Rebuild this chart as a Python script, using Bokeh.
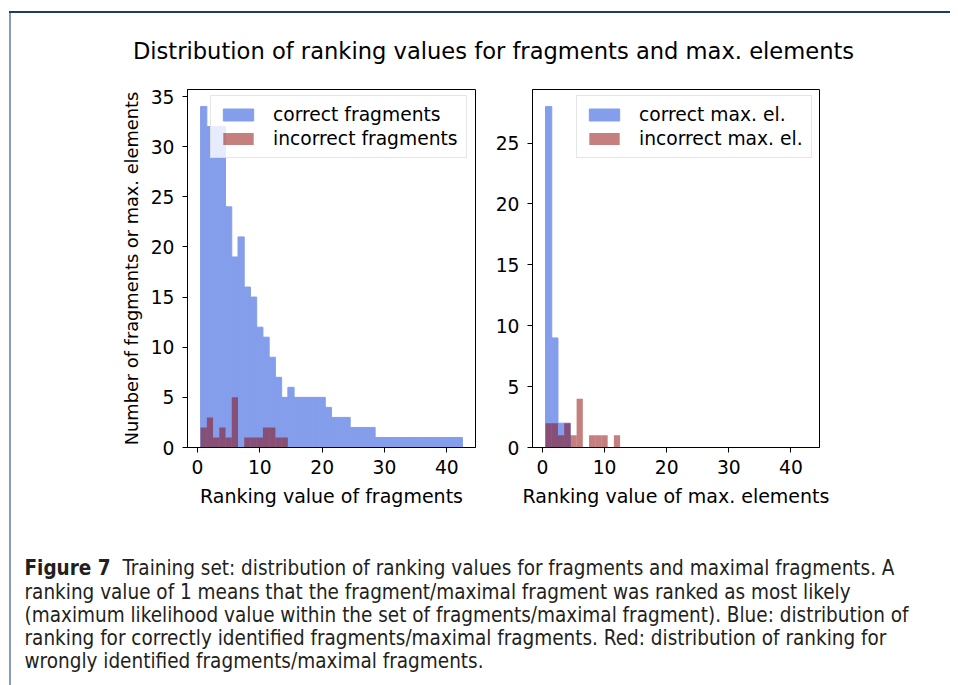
from bokeh.plotting import figure
from bokeh.layouts import column, row
from bokeh.models import Range1d, FixedTicker, Spacer, Div
from bokeh.embed import file_html
from bokeh.resources import INLINE
from bokeh.core.properties import value

# ---------------- data ----------------
TITLE = "Distribution of ranking values for fragments and max. elements"
bins = [1, 2, 3, 4, 5, 6, 7, 8, 9, 10, 11, 12, 13, 14, 15, 16, 17, 18, 19, 20, 21,
        22, 23, 24, 25, 26, 27, 28, 29, 30, 31, 32, 33, 34, 35, 36, 37, 38, 39, 40, 41, 42]
correct_fragments = [34, 32, 32, 32, 24, 19, 21, 16, 15, 12, 11, 9, 7, 5, 6, 5, 5, 5, 5, 5, 4,
                     3, 3, 3, 2, 2, 2, 2, 1, 1, 1, 1, 1, 1, 1, 1, 1, 1, 1, 1, 1, 1]
incorrect_fragments = [2, 3, 1, 2, 1, 5, 0, 1, 1, 1, 2, 2, 1, 1, 0, 0, 0, 0, 0, 0, 0,
                       0, 0, 0, 0, 0, 0, 0, 0, 0, 0, 0, 0, 0, 0, 0, 0, 0, 0, 0, 0, 0]
correct_max = [28, 9, 2, 2, 0, 0, 0, 0, 0, 0, 0, 0, 0, 0, 0, 0, 0, 0, 0, 0, 0,
               0, 0, 0, 0, 0, 0, 0, 0, 0, 0, 0, 0, 0, 0, 0, 0, 0, 0, 0, 0, 0]
incorrect_max = [2, 2, 1, 2, 1, 4, 0, 1, 1, 1, 0, 1, 0, 0, 0, 0, 0, 0, 0, 0, 0,
                 0, 0, 0, 0, 0, 0, 0, 0, 0, 0, 0, 0, 0, 0, 0, 0, 0, 0, 0, 0, 0]
x_ticks = [0, 10, 20, 30, 40]
y_ticks_left = [0, 5, 10, 15, 20, 25, 30, 35]
y_ticks_right = [0, 5, 10, 15, 20, 25]
xlabel_left = "Ranking value of fragments"
xlabel_right = "Ranking value of max. elements"
ylabel_left = "Number of fragments or max. elements"
legend_left = ["correct fragments", "incorrect fragments"]
legend_right = ["correct max. el.", "incorrect max. el."]
caption_bold = "Figure 7"
caption_lines = [
    "Training set: distribution of ranking values for fragments and maximal fragments. A",
    "ranking value of 1 means that the fragment/maximal fragment was ranked as most likely",
    "(maximum likelihood value within the set of fragments/maximal fragment). Blue: distribution of",
    "ranking for correctly identified fragments/maximal fragments. Red: distribution of ranking for",
    "wrongly identified fragments/maximal fragments.",
]

FONT = "DejaVu Sans"
FS = "18.7px"
BLUE = "#849eec"   # royalblue at 65% over white
RED = "darkred"


def hist(p, counts, color, alpha, label, edge):
    c = [b for b, v in zip(bins, counts) if v > 0]
    v = [v for v in counts if v > 0]
    p.quad(left=[b - 0.5 for b in c], right=[b + 0.5 for b in c], top=v, bottom=0,
           fill_color=color, fill_alpha=alpha,
           line_color=color if edge else None, line_width=1, legend_label=label)


def style_axes(p, yticks):
    p.grid.visible = False
    p.outline_line_color = "black"
    p.outline_line_width = 1
    p.outline_line_alpha = 1
    p.xaxis.ticker = FixedTicker(ticks=x_ticks)
    p.yaxis.ticker = FixedTicker(ticks=yticks)
    for ax in p.axis:
        ax.axis_line_color = "black"
        ax.major_tick_line_color = "black"
        ax.minor_tick_line_color = None
        ax.major_tick_in = 0
        ax.major_tick_out = 5
        ax.major_label_text_font = FONT
        ax.major_label_text_font_size = FS
        ax.major_label_text_color = "black"
        ax.axis_label_text_font = FONT
        ax.axis_label_text_font_size = "19px"
        ax.axis_label_text_font_style = "normal"
        ax.axis_label_text_color = "black"
    p.xaxis.major_label_standoff = 7
    p.yaxis.major_label_standoff = 8
    p.xaxis.axis_label_standoff = 8


def style_legend(p, loc):
    lg = p.legend[0]
    lg.location = loc
    lg.label_text_font = FONT
    lg.label_text_font_size = FS
    lg.label_text_color = "black"
    lg.glyph_width = 38
    lg.glyph_height = 15
    lg.label_standoff = 16
    lg.padding = 8
    lg.spacing = 3
    lg.margin = 0
    lg.border_line_color = "#cccccc"
    lg.border_line_width = 1
    lg.background_fill_alpha = 0.8


def blank(w, h):
    f = figure(width=w, height=h, x_range=Range1d(0, w), y_range=Range1d(h, 0),
               min_border=0, output_backend="svg", toolbar_location=None,
               x_axis_location=None, y_axis_location=None)
    f.grid.visible = False
    f.outline_line_color = None
    return f


ROW_H = 452

# ---------------- left histogram ----------------
p1 = figure(width=479, height=ROW_H, x_range=Range1d(-1.6, 44.6), y_range=Range1d(0, 35.7),
            output_backend="svg", toolbar_location=None,
            min_border_left=176, min_border_right=15, min_border_top=11, min_border_bottom=83)
hist(p1, correct_fragments, BLUE, 1.0, legend_left[0], True)
hist(p1, incorrect_fragments, RED, 0.5, legend_left[1], False)
style_axes(p1, y_ticks_left)
p1.xaxis.axis_label = xlabel_left
p1.yaxis.axis_label = ylabel_left
p1.yaxis.axis_label_text_font_size = "17.8px"
p1.yaxis.axis_label_standoff = 6
style_legend(p1, (23, 289))

# ---------------- right histogram ----------------
p2 = figure(width=460, height=ROW_H, x_range=Range1d(-1.6, 44.6), y_range=Range1d(0, 29.4),
            output_backend="svg", toolbar_location=None,
            min_border_left=42, min_border_right=131, min_border_top=11, min_border_bottom=83)
hist(p2, correct_max, BLUE, 1.0, legend_right[0], True)
hist(p2, incorrect_max, RED, 0.5, legend_right[1], False)
style_axes(p2, y_ticks_right)
p2.xaxis.axis_label = xlabel_right
style_legend(p2, (44, 289))

# ---------------- title and caption ----------------
top = blank(939, 65)
top.text(x=[482], y=[37], text=[TITLE], text_font=value(FONT), text_font_size="22.6px",
         text_align="center", text_baseline="middle", text_color="black")

cap = blank(939, 147)
CFONT = "DejaVu Sans Condensed, Liberation Sans"
CFS = "20.5px"
cap.text(x=[13], y=[37], text=[caption_bold], text_font=value(CFONT), text_font_size=CFS,
         text_font_style="bold", text_baseline="middle", text_color="#231f20")
cap.text(x=[111, 13, 13, 13, 13], y=[37, 61, 84, 107, 130], text=caption_lines,
         text_font=value(CFONT), text_font_size=CFS, text_baseline="middle", text_color="#231f20")

content = column(top, row(p1, p2), cap)
page = column(
    Spacer(width=950, height=11),
    row(Spacer(width=9, height=674),
        column(Div(width=941, height=2, margin=0, styles={"background-color": "#1f3b6e"}),
               row(Div(width=2, height=672, margin=0, styles={"background-color": "#8a9abb"}),
                   content))),
)

open("out.html", "w").write(file_html(page, INLINE))
